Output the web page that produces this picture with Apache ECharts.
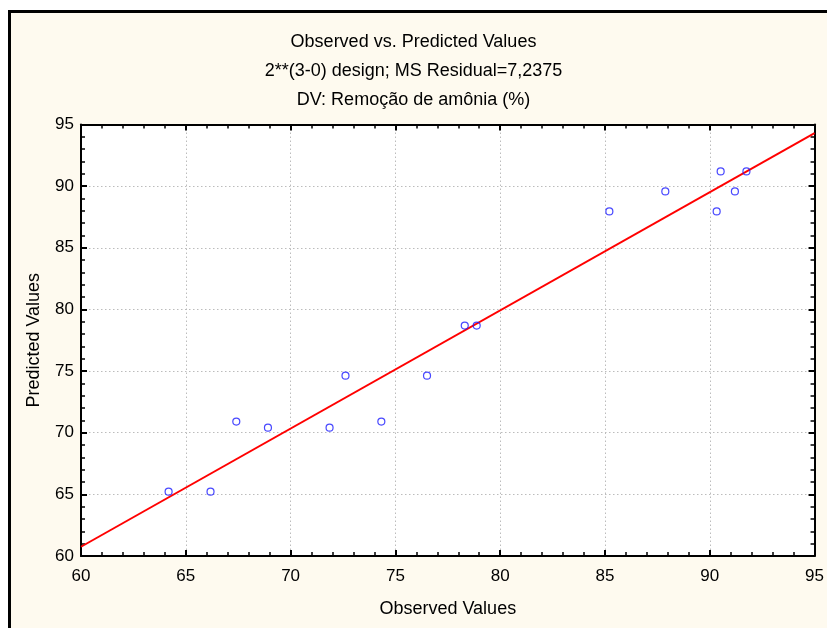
<!DOCTYPE html>
<html>
<head>
<meta charset="utf-8">
<script src="https://cdn.jsdelivr.net/npm/echarts@6/dist/echarts.min.js"></script>
<style>
	html, body { margin: 0; padding: 0; background: #ffffff; }
	#frame {
		position: absolute; left: 8px; top: 10px; width: 830px; height: 630px;
		background: #fefaef; border-left: 3px solid #000; border-top: 3px solid #000;
	}
	#chart { position: absolute; left: 0; top: 0; width: 827px; height: 628px; }
</style>
</head>
<body>
<div id="frame"></div>
<div id="chart"></div>
<script>
// observed / predicted pairs
var observed = [64.18, 66.18, 67.41, 68.92, 71.86, 72.62, 74.33, 76.51, 78.31, 78.88, 85.21, 87.88, 90.33, 90.52, 91.2, 91.75];
var predicted = [65.22, 65.22, 70.9, 70.41, 70.41, 74.63, 70.9, 74.63, 78.69, 78.69, 87.95, 89.57, 87.95, 91.19, 89.57, 91.19];
// fitted line end points
var lineX = [60, 95];
var lineY = [60.75, 94.3];
var titleLines = ['Observed vs. Predicted Values', '2**(3-0) design; MS Residual=7,2375', 'DV: Remoção de amônia (%)'];

var font = 'Liberation Sans, Arial, sans-serif';
var chart = echarts.init(document.getElementById('chart'), null, { renderer: 'canvas' });

var points = observed.map(function (v, i) { return [v, predicted[i]]; });
var fit = lineX.map(function (v, i) { return [v, lineY[i]]; });

function axisBase(pos, showLabel, showSplit) {
	return {
		type: 'value',
		position: pos,
		min: 60, max: 95, interval: 5,
		axisLine: { show: true, lineStyle: { color: '#000', width: 2 } },
		axisTick: { show: true, inside: true, length: 6, lineStyle: { color: '#000', width: 2 } },
		minorTick: { show: true, splitNumber: 5, length: 4, lineStyle: { color: '#000', width: 1.5 } },
		axisLabel: { show: showLabel, color: '#000', fontSize: 17, fontFamily: font, margin: 12, showMaxLabel: true, showMinLabel: true },
		splitLine: { show: showSplit, lineStyle: { color: '#bcbcbc', type: [1.5, 2.5], width: 1 } }
	};
}

var xBottom = axisBase('bottom', true, true);
xBottom.name = 'Observed Values';
xBottom.nameLocation = 'middle';
xBottom.nameGap = 44;
xBottom.nameTextStyle = { color: '#000', fontSize: 18, fontFamily: font };
var xTop = axisBase('top', false, false);

var yLeft = axisBase('left', true, true);
yLeft.axisLabel.margin = 7;
yLeft.name = 'Predicted Values';
yLeft.nameLocation = 'middle';
yLeft.nameGap = 38;
yLeft.nameTextStyle = { color: '#000', fontSize: 18, fontFamily: font };
var yRight = axisBase('right', false, false);

var option = {
	animation: false,
	title: titleLines.map(function (t, i) {
		return {
			text: t, left: 'center', top: 28 + i * 29,
			textStyle: { color: '#000', fontSize: 18, fontWeight: 'normal', fontFamily: font }
		};
	}),
	grid: { left: 81, right: 7, top: 124.5, bottom: 72, show: true, backgroundColor: '#fff', borderWidth: 0 },
	xAxis: [xBottom, xTop],
	yAxis: [yLeft, yRight],
	series: [
		{
			type: 'line',
			data: fit,
			symbol: 'none',
			lineStyle: { color: '#ff0000', width: 2 },
			z: 3
		},
		{
			type: 'scatter',
			data: points,
			symbol: 'circle',
			symbolSize: 7,
			itemStyle: { color: 'transparent', borderColor: '#1a1aff', borderWidth: 1.2 },
			z: 4
		}
	]
};
chart.setOption(option);
window.addEventListener('resize', function () {
	chart.resize();
});
</script>
</body>
</html>
